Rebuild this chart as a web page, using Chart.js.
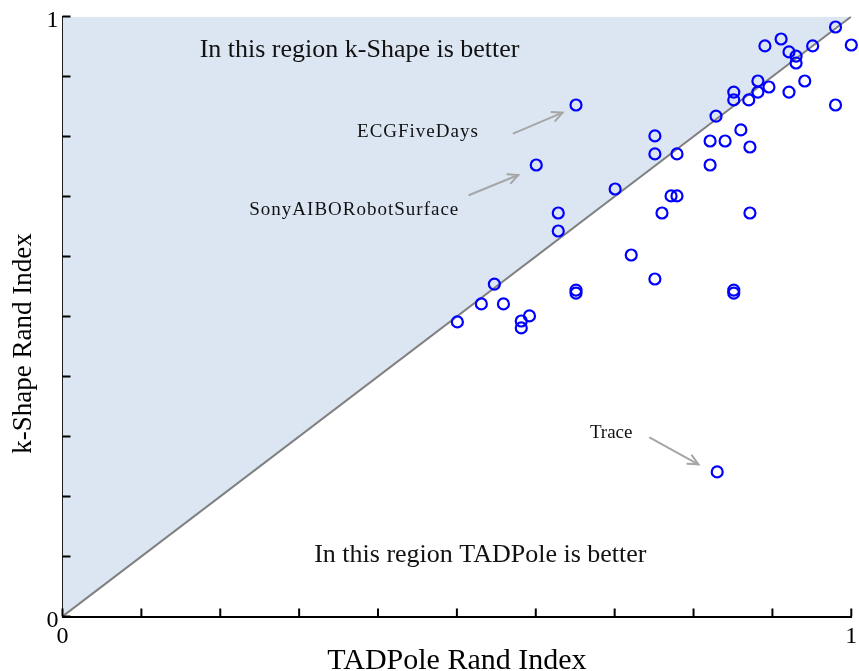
<!DOCTYPE html>
<html><head><meta charset="utf-8">
<script src="https://cdn.jsdelivr.net/npm/chart.js@4.4.1/dist/chart.umd.min.js"></script>
<style>html,body{margin:0;padding:0;background:#fff}#wrap{width:859px;height:671px}</style>
</head><body><div id="wrap"><canvas id="c" width="859" height="671"></canvas></div>
<script>
// TADPole Rand Index (x) and k-Shape Rand Index (y) per dataset
const tadpole = [0.980,0.911,0.8905,0.951,1.0,0.921,0.930,0.930,0.8816,0.941,0.8956,0.8816,0.851,0.921,0.851,0.870,0.980,0.8285,0.860,0.821,0.840,0.8715,0.821,0.8715,0.851,0.851,0.651,0.6006,0.751,0.751,0.779,0.7006,0.7715,0.779,0.760,0.6285,0.6285,0.721,0.751,0.651,0.651,0.5475,0.531,0.559,0.5006,0.5816,0.5816,0.592,0.830];
const kshape  = [0.9825,0.9625,0.951,0.951,0.9525,0.941,0.934,0.9225,0.8925,0.8925,0.8825,0.874,0.874,0.874,0.861,0.861,0.8525,0.834,0.811,0.7925,0.7925,0.7825,0.7525,0.6725,0.544,0.539,0.8525,0.7525,0.801,0.771,0.771,0.7125,0.701,0.701,0.6725,0.6725,0.6425,0.6025,0.5625,0.544,0.539,0.554,0.521,0.521,0.491,0.4925,0.481,0.501,0.241];
const diagonalX = [0, 1];
const diagonalY = [0, 1];
const tickValues = [0,0.1,0.2,0.3,0.4,0.5,0.6,0.7,0.8,0.9,1];
const tickLabels = ['0','','','','','','','','','','1'];
const xTitle = 'TADPole Rand Index';
const yTitle = 'k-Shape Rand Index';

// text annotations (data coordinates of anchor)
const notes = [
  {text:'In this region k-Shape is better', x:0.3766, y:0.933, size:26, spacing:0},
  {text:'In this region TADPole is better', x:0.5297, y:0.0908, size:26, spacing:0},
  {text:'ECGFiveDays', x:0.4506, y:0.7987, size:19, spacing:1},
  {text:'SonyAIBORobotSurface', x:0.3699, y:0.669, size:19, spacing:1},
  {text:'Trace', x:0.6956, y:0.297, size:19, spacing:0}
];
const arrows = [
  {x0:0.5719,y0:0.8053,x1:0.6339,y1:0.8397},
  {x0:0.5158,y0:0.7025,x1:0.5778,y1:0.7358},
  {x0:0.7446,y0:0.298,x1:0.8061,y1:0.2537}
];

const FONT = "'Liberation Serif','Times New Roman',serif";

const points = tadpole.map((v,i)=>({x:v, y:kshape[i]}));
const diag = diagonalX.map((v,i)=>({x:v, y:diagonalY[i]}));

const decor = {
  id:'decor',
  afterDraw(chart){
    const {ctx, scales:{x, y}} = chart;
    ctx.save();
    // inward tick marks
    ctx.strokeStyle = '#000'; ctx.lineWidth = 2;
    x.ticks.forEach(t=>{
      const px = x.getPixelForValue(t.value);
      ctx.beginPath(); ctx.moveTo(px, y.bottom); ctx.lineTo(px, y.bottom-8); ctx.stroke();
    });
    y.ticks.forEach(t=>{
      const py = y.getPixelForValue(t.value);
      ctx.beginPath(); ctx.moveTo(x.left, py); ctx.lineTo(x.left+8, py); ctx.stroke();
    });
    // arrows
    ctx.strokeStyle = '#a6a6a6'; ctx.lineWidth = 2; ctx.lineCap='round';
    arrows.forEach(a=>{
      const x0 = x.getPixelForValue(a.x0), y0 = y.getPixelForValue(a.y0);
      const x1 = x.getPixelForValue(a.x1), y1 = y.getPixelForValue(a.y1);
      const ang = Math.atan2(y1-y0, x1-x0), L = 11, w = 0.45;
      ctx.beginPath(); ctx.moveTo(x0,y0); ctx.lineTo(x1,y1); ctx.stroke();
      ctx.beginPath();
      ctx.moveTo(x1 - L*Math.cos(ang-w), y1 - L*Math.sin(ang-w));
      ctx.lineTo(x1, y1);
      ctx.lineTo(x1 - L*Math.cos(ang+w), y1 - L*Math.sin(ang+w));
      ctx.stroke();
    });
    // text
    ctx.fillStyle = '#111';
    ctx.textAlign = 'center'; ctx.textBaseline = 'alphabetic';
    notes.forEach(n=>{
      ctx.font = n.size + 'px ' + FONT;
      ctx.letterSpacing = n.spacing + 'px';
      ctx.fillText(n.text, x.getPixelForValue(n.x), y.getPixelForValue(n.y));
    });
    ctx.restore();
  }
};

new Chart(document.getElementById('c'), {
  data:{
    datasets:[
      {type:'scatter', data:points, order:0, pointStyle:'circle', pointRadius:5.5, pointHoverRadius:5.5,
       borderColor:'#0000ff', backgroundColor:'rgba(0,0,0,0)', borderWidth:2.2, clip:false},
      {type:'line', data:diag, order:1, fill:'end', backgroundColor:'#dce6f2', borderColor:'#808080',
       borderWidth:2, pointRadius:0, tension:0}
    ]
  },
  options:{
    responsive:false, animation:false, devicePixelRatio:1,
    layout:{padding:{left:0, right:4.5, top:16.5, bottom:0}},
    plugins:{legend:{display:false}, tooltip:{enabled:false}},
    events:[],
    scales:{
      x:{type:'linear', min:0, max:1,
        afterBuildTicks(s){ s.ticks = tickValues.map(v=>({value:v})); },
        afterFit(s){ s.height = 54.5; s.paddingLeft = 0; s.paddingRight = 0; },
        ticks:{autoSkip:false, maxRotation:0, padding:6, color:'#000', font:{family:FONT, size:24},
          callback:(v,i)=>tickLabels[i]},
        grid:{display:true, drawOnChartArea:false, drawTicks:false},
        border:{color:'#000', width:2},
        title:{display:true, text:xTitle, color:'#000', font:{family:FONT, size:30, lineHeight:0.66}, padding:{top:0,bottom:0}}
      },
      y:{type:'linear', min:0, max:1,
        afterBuildTicks(s){ s.ticks = tickValues.map(v=>({value:v})); },
        afterFit(s){ s.width = 62.5; s.paddingTop = 0; s.paddingBottom = 0; },
        ticks:{autoSkip:false, padding:4, labelOffset:4, color:'#000', font:{family:FONT, size:24},
          callback:(v,i)=>tickLabels[i]},
        grid:{display:true, drawOnChartArea:false, drawTicks:false},
        border:{color:'#000', width:2},
        title:{display:true, text:yTitle + '\u00a0\u00a0\u00a0\u00a0\u00a0\u00a0\u00a0\u00a0', color:'#000', font:{family:FONT, size:27}, padding:{top:8,bottom:0}}
      }
    }
  },
  plugins:[decor]
});
</script></body></html>
